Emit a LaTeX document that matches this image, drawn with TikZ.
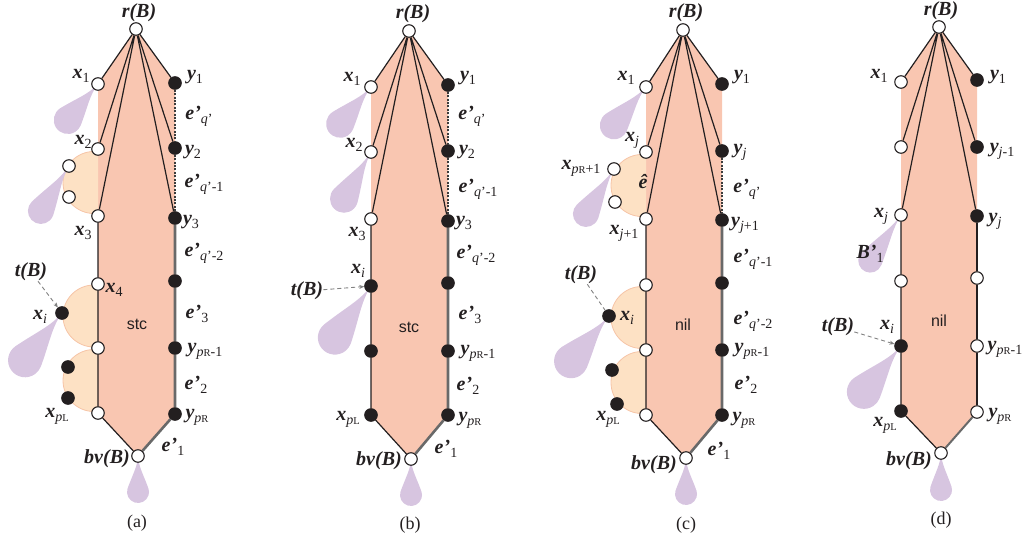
\documentclass[tikz,border=0pt]{standalone}
\usepackage{fontspec}
\setmainfont{Liberation Serif}
\setsansfont{Liberation Sans}
\usetikzlibrary{arrows.meta}
\pgfdeclarelayer{bg}\pgfdeclarelayer{mid}\pgfsetlayers{bg,mid,main}
\definecolor{salmonc}{RGB}{249,198,177}
\definecolor{blobc}{RGB}{253,225,196}
\definecolor{blobd}{RGB}{246,196,166}
\definecolor{dropc}{RGB}{215,197,224}
\definecolor{nodec}{RGB}{35,31,32}
\definecolor{labc}{RGB}{35,31,32}
\definecolor{greyc}{RGB}{105,105,105}
\definecolor{dotc}{RGB}{60,60,60}
\definecolor{arrc}{RGB}{130,130,130}
\newcommand{\bi}[1]{\textbf{\textit{#1}}}
\newcommand{\sbs}[1]{\raisebox{-0.2em}{\fontsize{14}{14}\selectfont #1}}
\newcommand{\Rs}{{\fontsize{10.5}{10.5}\selectfont R}}
\newcommand{\Ls}{{\fontsize{10.5}{10.5}\selectfont L}}
\newcommand{\blobL}[2]{%
  \begin{scope}\clip (#1-50,#2-40) rectangle (#1,#2+40);
  \filldraw[fill=blobc, draw=blobd, line width=0.8pt] (#1-4,#2) circle[radius=31];
  \end{scope}}
\tikzset{
  wn/.style={circle, draw=nodec, fill=white, line width=1.1pt, minimum size=12.5pt, inner sep=0pt},
  bn/.style={wn, fill=nodec},
  blk/.style={draw=nodec, line width=1.2pt},
  gry/.style={draw=greyc, line width=2.6pt},
  gryd/.style={draw=greyc, line width=2pt},
  dotl/.style={draw=dotc, line width=2.2pt, dash pattern=on 2pt off 1.4pt},
  tarr/.style={draw=arrc, line width=0.9pt, dash pattern=on 4pt off 3pt, -{Stealth[length=5pt,width=4pt]}},
  tline/.style={draw=arrc, line width=0.9pt, dash pattern=on 4pt off 3pt},
  lab/.style={inner sep=0pt, text=labc, font=\fontsize{20}{22}\selectfont},
  sfl/.style={inner sep=0pt, text=labc, font=\sffamily\fontsize{16}{18}\selectfont},
  capt/.style={inner sep=0pt, text=labc, font=\fontsize{18}{21}\selectfont},
  pics/teardrop/.style args={#1/#2}{code={%
    \pgfmathsetmacro{\tda}{asin(#2/#1)}%
    \fill[dropc] (0,0) .. controls (0.3*#1,0.05*#2) and (0.5*#1,{0.5*#2*cos(\tda)}) .. ({#1-#2*sin(\tda)},{#2*cos(\tda)})
      arc[start angle={90+\tda},end angle={-90-\tda},radius=#2]
      .. controls (0.5*#1,{-0.5*#2*cos(\tda)}) and (0.3*#1,-0.05*#2) .. (0,0) -- cycle;}}
}
\begin{document}
\begin{tikzpicture}[x=1pt,y=-1pt]
\useasboundingbox (0,0) rectangle (1027,543);
% ================= (a) =================
\node[wn] (a-r) at (136,29) {};
\node[wn] (a-x1) at (98,84) {};
\node[wn] (a-x2) at (98,149) {};
\node[wn] (a-x3) at (98,216) {};
\node[wn] (a-x4) at (98,284) {};
\node[wn] (a-x5) at (98,348) {};
\node[wn] (a-xp) at (98,413) {};
\node[wn] (a-bv) at (138,456) {};
\node[bn] (a-y1) at (175,83) {};
\node[bn] (a-y2) at (175,148) {};
\node[bn] (a-y3) at (175,218) {};
\node[bn] (a-y4) at (175,281) {};
\node[bn] (a-y5) at (175,348) {};
\node[bn] (a-yp) at (175,414) {};
\node[wn] (a-b1) at (69,166) {};
\node[wn] (a-b2) at (69,197) {};
\node[bn] (a-xi) at (62,313) {};
\node[bn] (a-b3) at (68,367) {};
\node[bn] (a-b4) at (68,398) {};
\begin{pgfonlayer}{bg}
\fill[salmonc] (a-r.center) -- (a-x1.center) -- (a-xp.center) -- (a-bv.center) -- (a-yp.center) -- (a-y1.center) -- cycle;
\end{pgfonlayer}
\begin{pgfonlayer}{mid}
\blobL{98}{182.5}\blobL{98}{316}\blobL{98}{380.5}
\pic[rotate=230] at (a-x1.center) {teardrop={47/14}};
\pic[rotate=238] at (a-b1.center) {teardrop={53/13}};
\pic[rotate=232] at (a-xi.center) {teardrop={60/17}};
\pic[rotate=270] at (a-bv.center) {teardrop={36/11}};
\end{pgfonlayer}
\draw[blk] (a-r) -- (a-x1) (a-r) -- (a-x2) (a-r) -- (a-x3) (a-r) -- (a-y1) (a-r) -- (a-y2) (a-r) -- (a-y3);
\draw[blk] (a-x3) -- (a-x4) -- (a-x5) -- (a-xp) -- (a-bv);
\draw[dotl] (a-y1) -- (a-y2) -- (a-y3);
\draw[gry] (a-y3) -- (a-y4) -- (a-y5) -- (a-yp) -- (a-bv);
\node[lab] (a-lr) at (139,13) {\bi{r(B)}};
\node[lab] (a-lx1) at (81,76) {\bi{x}\sbs{1}};
\node[lab] (a-ly1) at (195,77) {\bi{y}\sbs{1}};
\node[lab] (a-le1) at (199,116) {\bi{e’}\sbs{\textit{q}’}};
\node[lab] (a-lx2) at (83,142) {\bi{x}\sbs{2}};
\node[lab] (a-ly2) at (193,152) {\bi{y}\sbs{2}};
\node[lab] (a-le2) at (204,184) {\bi{e’}\sbs{\textit{q}’-1}};
\node[lab] (a-lx3) at (83,233) {\bi{x}\sbs{3}};
\node[lab] (a-ly3) at (191,222) {\bi{y}\sbs{3}};
\node[lab] (a-le3) at (204,253) {\bi{e’}\sbs{\textit{q}’-2}};
\node[lab] (a-lt) at (31,272) {\bi{t(B)}};
\node[lab] (a-lx4) at (114,290) {\bi{x}\sbs{4}};
\node[lab] (a-lxi) at (40,317) {\bi{x}\sbs{\textit{i}}};
\node[lab] (a-le4) at (197,314) {\bi{e’}\sbs{3}};
\node[sfl] (a-stc) at (137,324) {stc};
\node[lab] (a-ly5) at (205,351) {\bi{y}\sbs{\textit{p}\Rs-1}};
\node[lab] (a-le5) at (196,385) {\bi{e’}\sbs{2}};
\node[lab] (a-lxp) at (57,416) {\bi{x}\sbs{\textit{p}\Ls}};
\node[lab] (a-lyp) at (197,417) {\bi{y}\sbs{\textit{p}\Rs}};
\node[lab] (a-le6) at (173,447) {\bi{e’}\sbs{1}};
\node[lab] (a-lbv) at (107,459) {\bi{bv(B)}};
\node[capt] (a-cap) at (137,523) {(a)};
\draw[tarr] (a-lt) -- (a-xi);
% ================= (b) =================
\node[wn] (b-r) at (409,31) {};
\node[wn] (b-x1) at (371,87) {};
\node[wn] (b-x2) at (371,152) {};
\node[wn] (b-x3) at (371,219) {};
\node[bn] (b-xi) at (371,286) {};
\node[bn] (b-x5) at (371,351) {};
\node[bn] (b-xp) at (371,415) {};
\node[wn] (b-bv) at (411,459) {};
\node[bn] (b-y1) at (448,85) {};
\node[bn] (b-y2) at (448,151) {};
\node[bn] (b-y3) at (448,221) {};
\node[bn] (b-y4) at (448,283) {};
\node[bn] (b-y5) at (448,351) {};
\node[bn] (b-yp) at (448,415) {};
\begin{pgfonlayer}{bg}
\fill[salmonc] (b-r.center) -- (b-x1.center) -- (b-xp.center) -- (b-bv.center) -- (b-yp.center) -- (b-y1.center) -- cycle;
\end{pgfonlayer}
\begin{pgfonlayer}{mid}
\pic[rotate=230] at (b-x1.center) {teardrop={48/14}};
\pic[rotate=240] at (b-x2.center) {teardrop={54/14}};
\pic[rotate=235] at (b-xi.center) {teardrop={63/17}};
\pic[rotate=270] at (b-bv.center) {teardrop={36/11}};
\end{pgfonlayer}
\draw[blk] (b-r) -- (b-x1) (b-r) -- (b-x2) (b-r) -- (b-x3) (b-r) -- (b-y1) (b-r) -- (b-y2) (b-r) -- (b-y3);
\draw[blk] (b-x3) -- (b-xi) -- (b-x5) -- (b-xp) -- (b-bv);
\draw[dotl] (b-y1) -- (b-y2) -- (b-y3);
\draw[gry] (b-y3) -- (b-y4) -- (b-y5) -- (b-yp) -- (b-bv);
\node[lab] (b-lr) at (413,14) {\bi{r(B)}};
\node[lab] (b-lx1) at (352,79) {\bi{x}\sbs{1}};
\node[lab] (b-ly1) at (468,78) {\bi{y}\sbs{1}};
\node[lab] (b-le1) at (472,116) {\bi{e’}\sbs{\textit{q}’}};
\node[lab] (b-lx2) at (354,145) {\bi{x}\sbs{2}};
\node[lab] (b-ly2) at (467,152) {\bi{y}\sbs{2}};
\node[lab] (b-le2) at (478,189) {\bi{e’}\sbs{\textit{q}’-1}};
\node[lab] (b-lx3) at (357,234) {\bi{x}\sbs{3}};
\node[lab] (b-ly3) at (464,223) {\bi{y}\sbs{3}};
\node[lab] (b-le3) at (476,255) {\bi{e’}\sbs{\textit{q}’-2}};
\node[lab] (b-lxi) at (358,271) {\bi{x}\sbs{\textit{i}}};
\node[lab] (b-lt) at (307,291) {\bi{t(B)}};
\node[lab] (b-le4) at (470,315) {\bi{e’}\sbs{3}};
\node[sfl] (b-stc) at (409,327) {stc};
\node[lab] (b-ly5) at (478,353) {\bi{y}\sbs{\textit{p}\Rs-1}};
\node[lab] (b-le5) at (468,386) {\bi{e’}\sbs{2}};
\node[lab] (b-lxp) at (348,419) {\bi{x}\sbs{\textit{p}\Ls}};
\node[lab] (b-lyp) at (470,420) {\bi{y}\sbs{\textit{p}\Rs}};
\node[lab] (b-le6) at (446,449) {\bi{e’}\sbs{1}};
\node[lab] (b-lbv) at (379,461) {\bi{bv(B)}};
\node[capt] (b-cap) at (410,525) {(b)};
\draw[tarr] (b-lt) -- (b-xi);
% ================= (c) =================
\node[wn] (c-r) at (683,30) {};
\node[wn] (c-x1) at (646,87) {};
\node[wn] (c-xj) at (646,152) {};
\node[wn] (c-xj1) at (646,219) {};
\node[wn] (c-x4) at (646,285) {};
\node[wn] (c-x5) at (646,350) {};
\node[wn] (c-xp) at (646,415) {};
\node[wn] (c-bv) at (686,458) {};
\node[bn] (c-y1) at (722,84) {};
\node[bn] (c-yj) at (722,151) {};
\node[bn] (c-yj1) at (722,220) {};
\node[bn] (c-y4) at (722,283) {};
\node[bn] (c-y5) at (722,350) {};
\node[bn] (c-yp) at (722,415) {};
\node[wn] (c-b1) at (614,169) {};
\node[wn] (c-b2) at (615,202) {};
\node[bn] (c-xi) at (609,316) {};
\node[bn] (c-b3) at (612,370) {};
\node[bn] (c-b4) at (617,404) {};
\begin{pgfonlayer}{bg}
\fill[salmonc] (c-r.center) -- (c-x1.center) -- (c-xp.center) -- (c-bv.center) -- (c-yp.center) -- (c-y1.center) -- cycle;
\end{pgfonlayer}
\begin{pgfonlayer}{mid}
\blobL{646}{185.5}\blobL{646}{317.5}\blobL{646}{382.5}
\pic[rotate=230] at (c-x1.center) {teardrop={50/14}};
\pic[rotate=238] at (c-b1.center) {teardrop={53/13}};
\pic[rotate=230] at (c-xi.center) {teardrop={59/17}};
\pic[rotate=270] at (c-bv.center) {teardrop={36/11}};
\end{pgfonlayer}
\draw[blk] (c-r) -- (c-x1) (c-r) -- (c-xj) (c-r) -- (c-xj1) (c-r) -- (c-y1) (c-r) -- (c-yj) (c-r) -- (c-yj1);
\draw[blk] (c-xj1) -- (c-x4) -- (c-x5) -- (c-xp) -- (c-bv);
\draw[dotl] (c-yj) -- (c-yj1);
\draw[gry] (c-yj1) -- (c-y4) -- (c-y5) -- (c-yp) -- (c-bv);
\node[lab] (c-lr) at (686,13) {\bi{r(B)}};
\node[lab] (c-lx1) at (626,78) {\bi{x}\sbs{1}};
\node[lab] (c-ly1) at (742,77) {\bi{y}\sbs{1}};
\node[lab] (c-lxj) at (632,140) {\bi{x}\sbs{\textit{j}}};
\node[lab] (c-lyj) at (740,152) {\bi{y}\sbs{\textit{j}}};
\node[lab] (c-lxr) at (581,168) {\bi{x}\sbs{\textit{p}\Rs+1}};
\node[lab] (c-leh) at (643,182) {\bi{\^{e}}};
\node[lab] (c-le1) at (747,189) {\bi{e’}\sbs{\textit{q}’}};
\node[lab] (c-lxj1) at (624,233) {\bi{x}\sbs{\textit{j}+1}};
\node[lab] (c-lyj1) at (745,225) {\bi{y}\sbs{\textit{j}+1}};
\node[lab] (c-le2) at (753,259) {\bi{e’}\sbs{\textit{q}’-1}};
\node[lab] (c-lt) at (581,275) {\bi{t(B)}};
\node[lab] (c-lxi) at (627,318) {\bi{x}\sbs{\textit{i}}};
\node[sfl] (c-nil) at (683,325) {nil};
\node[lab] (c-le3) at (753,321) {\bi{e’}\sbs{\textit{q}’-2}};
\node[lab] (c-ly5) at (752,351) {\bi{y}\sbs{\textit{p}\Rs-1}};
\node[lab] (c-le5) at (746,385) {\bi{e’}\sbs{2}};
\node[lab] (c-lxp) at (608,419) {\bi{x}\sbs{\textit{p}\Ls}};
\node[lab] (c-lyp) at (744,420) {\bi{y}\sbs{\textit{p}\Rs}};
\node[lab] (c-le6) at (719,451) {\bi{e’}\sbs{1}};
\node[lab] (c-lbv) at (654,465) {\bi{bv(B)}};
\node[capt] (c-cap) at (686,525) {(c)};
\draw[tline] (c-lt) -- (c-xi);
% ================= (d) =================
\node[wn] (d-r) at (939,27) {};
\node[wn] (d-x1) at (901,82) {};
\node[wn] (d-xa) at (901,147) {};
\node[wn] (d-xj) at (901,215) {};
\node[wn] (d-x4) at (901,281) {};
\node[bn] (d-xi) at (901,346) {};
\node[bn] (d-xp) at (901,411) {};
\node[wn] (d-bv) at (941,453) {};
\node[bn] (d-y1) at (977,80) {};
\node[bn] (d-yjm) at (977,147) {};
\node[bn] (d-yj) at (977,216) {};
\node[wn] (d-y4) at (977,278) {};
\node[wn] (d-y5) at (977,346) {};
\node[wn] (d-yp) at (977,412) {};
\begin{pgfonlayer}{bg}
\fill[salmonc] (d-r.center) -- (d-x1.center) -- (d-xp.center) -- (d-bv.center) -- (d-yp.center) -- (d-y1.center) -- cycle;
\end{pgfonlayer}
\begin{pgfonlayer}{mid}
\pic[rotate=236] at (d-xj.center) {teardrop={55/12}};
\pic[rotate=231] at (d-xi.center) {teardrop={59/17}};
\pic[rotate=270] at (d-bv.center) {teardrop={37/11}};
\end{pgfonlayer}
\draw[blk] (d-r) -- (d-x1) (d-r) -- (d-xa) (d-r) -- (d-xj) (d-r) -- (d-y1) (d-r) -- (d-yjm) (d-r) -- (d-yj);
\draw[blk] (d-xj) -- (d-x4) -- (d-xi) -- (d-xp) -- (d-bv);
\draw[blk] (d-yj) -- (d-y4) -- (d-y5) -- (d-yp);
\draw[gryd] (d-yp) -- (d-bv);
\node[lab] (d-lr) at (941,11) {\bi{r(B)}};
\node[lab] (d-lx1) at (879,76) {\bi{x}\sbs{1}};
\node[lab] (d-ly1) at (998,77) {\bi{y}\sbs{1}};
\node[lab] (d-lyjm) at (1002,151) {\bi{y}\sbs{\textit{j}-1}};
\node[lab] (d-lxj) at (881,216) {\bi{x}\sbs{\textit{j}}};
\node[lab] (d-lyj) at (995,221) {\bi{y}\sbs{\textit{j}}};
\node[lab] (d-lB) at (870,254) {\bi{B’}\sbs{1}};
\node[lab] (d-lt) at (838,327) {\bi{t(B)}};
\node[lab] (d-lxi) at (887,327) {\bi{x}\sbs{\textit{i}}};
\node[sfl] (d-nil) at (939,321) {nil};
\node[lab] (d-ly5) at (1005,349) {\bi{y}\sbs{\textit{p}\Rs-1}};
\node[lab] (d-lxp) at (885,425) {\bi{x}\sbs{\textit{p}\Ls}};
\node[lab] (d-lyp) at (1000,416) {\bi{y}\sbs{\textit{p}\Rs}};
\node[lab] (d-lbv) at (909,461) {\bi{bv(B)}};
\node[capt] (d-cap) at (941,520) {(d)};
\draw[tarr] (d-lt) -- (d-xi);
\end{tikzpicture}
\end{document}
